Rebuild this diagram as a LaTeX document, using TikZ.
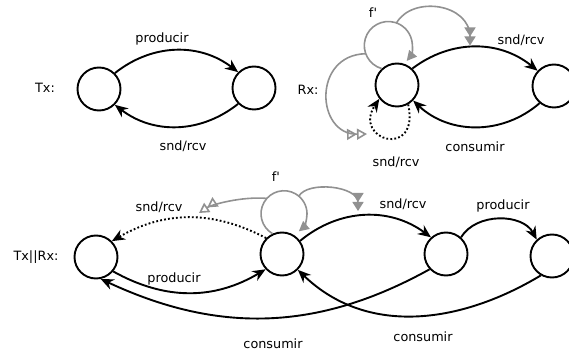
\documentclass[tikz,border=0pt]{standalone}
\usepackage{fontspec}
\setmainfont{DejaVu Sans}
\usetikzlibrary{arrows.meta,calc}
\definecolor{gr}{RGB}{145,145,145}
\begin{document}
\begin{tikzpicture}[x=1pt,y=-1pt,
  st/.style={circle,draw,line width=1.9pt,minimum size=43pt,inner sep=0pt},
  tr/.style={line width=1.9pt,-{Stealth[length=13pt,width=11pt]}},
  dotl/.style={line width=1.9pt,dash pattern=on 1.8pt off 2.2pt,-{Stealth[length=13pt,width=11pt]}},
  gl/.style={draw=gr,line width=1.6pt},
  gfill/.style={-{Triangle[length=9pt,width=11pt] Triangle[length=9pt,width=11pt]}},
  gopen/.style={-{Triangle[open,length=10pt,width=11pt] Triangle[open,length=10pt,width=11pt]}},
  gone/.style={-{Triangle[length=10pt,width=10pt]}},
  lab/.style={font=\fontsize{12.8}{15}\selectfont,inner sep=0pt}
]
\clip (0,0) rectangle (569,352);

% ---- Tx ----
\node[st] (A) at (99,89) {};
\node[st] (B) at (254,88) {};
\node[lab] (lTx) at (45,88) {Tx:};
\draw[tr] (A.45) to[bend left=38] (B.135);
\draw[tr] (B.-135) to[bend left=38] (A.-45);
\node[lab] (l1) at (162,39) {producir};
\node[lab] (l2) at (183,146) {snd/rcv};

% ---- Rx ----
\node[st] (C) at (397,85) {};
\node[st] (D) at (554,86) {};
\node[lab] (lRx) at (308,90) {Rx:};
\draw[tr] (C.47) to[bend left=38] (D.137);
\draw[tr] (D.-130) to[bend left=42] (C.-44);
\draw[dotl] (C.-60) .. controls (420,160) and (352,140) .. (C.218);
\draw[gl,gone] (C.133) arc[start angle=254,end angle=-40,radius=24pt];
\coordinate (L1) at (388.3,45.5);
\coordinate (t1) at (470,45.5);
\coordinate (t2) at (367,134);
\draw[gl,gfill] ($(L1)+(70:24pt)$) .. controls +(60:32pt) and +(90:42pt) .. (t1);
\draw[gl,gopen] ($(L1)+(200:24pt)$) .. controls (312,55) and (316,135) .. (t2);
\node[lab] (l3) at (373,13) {f\textquotesingle};
\node[lab] (l4) at (521,40) {snd/rcv};
\node[lab] (l5) at (475,147) {consumir};
\node[lab] (l6) at (396,162) {snd/rcv};

% ---- Tx||Rx ----
\node[st] (E) at (96,257) {};
\node[st] (F) at (282,254) {};
\node[st] (G) at (446,254) {};
\node[st] (H) at (552,256) {};
\node[lab] (lTR) at (36,257) {Tx||Rx:};
\draw[dotl] (F.135) to[bend right=29] (E.45);
\draw[tr] (E.-40) to[bend right=30] (F.-137);
\draw[tr] (G.-137) to[out=209,in=-25] (E.-78);
\draw[tr] (H.-120) to[out=211,in=-44] (F.-45);
\draw[tr] (F.36) to[bend left=38] (G.132);
\draw[tr] (G.48) to[bend left=60] (H.133);
\draw[gl,gone] (F.115) arc[start angle=240,end angle=-50,radius=23pt];
\coordinate (L2) at (284,213.8);
\coordinate (t3) at (199,213);
\coordinate (t4) at (358,211);
\draw[gl,gopen] ($(L2)+(138:23pt)$) .. controls +(175:25pt) and +(34:15pt) .. (t3);
\draw[gl,gfill] ($(L2)+(50:23pt)$) .. controls +(60:18pt) and +(90:25pt) .. (t4);
\node[lab] (l7) at (276,177) {f\textquotesingle};
\node[lab] (l8) at (159,207) {snd/rcv};
\node[lab] (l9) at (174,279) {producir};
\node[lab] (l10) at (403,204) {snd/rcv};
\node[lab] (l11) at (503,206) {producir};
\node[lab] (l12) at (423,337) {consumir};
\node[lab] (l13) at (273,344) {consumir};
\end{tikzpicture}
\end{document}
